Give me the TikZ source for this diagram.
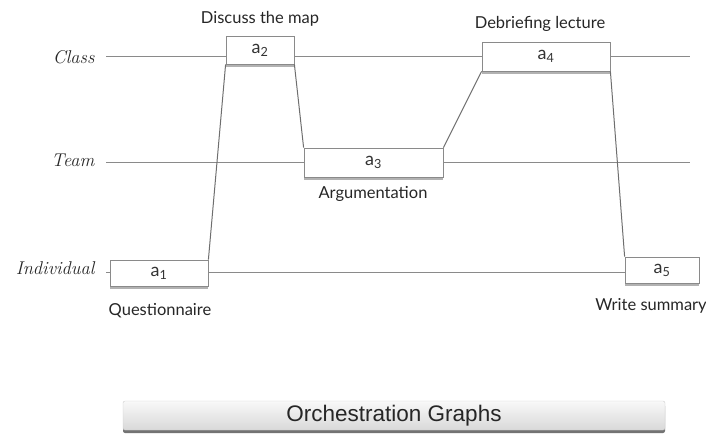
\documentclass[tikz,border=0pt]{standalone}
\usepackage{fontspec}
\setmainfont{Lato}
\newfontfamily\titlefont{Liberation Sans}
\newfontfamily\handfont{Latin Modern Roman}
\usetikzlibrary{shadows}
\definecolor{linegray}{HTML}{8A8A8A}
\tikzset{
  track/.style={draw=linegray, line width=0.9pt},
  link/.style={draw=linegray!80!black, line width=1pt},
  act/.style={draw=linegray, fill=white, line width=0.8pt, inner sep=0pt,
    font=\fontsize{18}{20}\selectfont, text=black!80,
    drop shadow={shadow xshift=0pt, shadow yshift=-2.5pt, opacity=0.3, fill=black}},
  captext/.style={font=\fontsize{16.5}{18}\selectfont, text=black!85},
  lvl/.style={font=\handfont\itshape\fontsize{18.5}{20}\selectfont, anchor=east, text=black!85},
}
\begin{document}
\begin{tikzpicture}[x=1pt,y=-1pt]
\useasboundingbox (0,0) rectangle (706,440);
% tracks
\coordinate (cL) at (106,56);  \coordinate (cR) at (690,56);
\coordinate (tL) at (106,162); \coordinate (tR) at (690,162);
\coordinate (iL) at (106,272); \coordinate (iR) at (690,272);
\draw[track] (cL) -- (cR);
\draw[track] (tL) -- (tR);
\draw[track] (iL) -- (iR);
\node[lvl] (lc) at (98,57) {Class};
\node[lvl] (lt) at (98,160) {Team};
\node[lvl] (li) at (98,268) {Individual};
% activities
\node[act, minimum width=98pt, minimum height=26pt] (a1) at (159,273) {a\textsubscript{1}};
\node[act, minimum width=68pt, minimum height=28pt] (a2) at (260,50) {a\textsubscript{2}};
\node[act, minimum width=139pt, minimum height=29pt] (a3) at (373.5,162.5) {a\textsubscript{3}};
\node[act, minimum width=128pt, minimum height=29pt] (a4) at (546,56.5) {a\textsubscript{4}};
\node[act, minimum width=74pt, minimum height=26pt] (a5) at (662,270) {a\textsubscript{5}};
% links
\draw[link] (a1.north east) -- (a2.south west);
\draw[link] (a2.south east) -- (a3.north west);
\draw[link] (a3.north east) -- (a4.south west);
\draw[link] (a4.south east) -- (a5.north west);
% captions
\node[captext] (c2) at (260,19) {Discuss the map};
\node[captext] (c4) at (540,24) {Debriefing lecture};
\node[captext] (c3) at (373,194) {Argumentation};
\node[captext] (c1) at (160,311) {Questionnaire};
\node[captext] (c5) at (651,306) {Write summary};
% title bar
\node[draw=gray!40, rounded corners=2pt, top color=gray!5, bottom color=gray!30,
  minimum width=542pt, minimum height=29pt,
  drop shadow={shadow xshift=0pt, shadow yshift=-3pt, opacity=0.55, fill=black},
  font=\titlefont\fontsize{22.5}{24}\selectfont, text=black!85] (title) at (394,415.5) {Orchestration Graphs};
\end{tikzpicture}
\end{document}
